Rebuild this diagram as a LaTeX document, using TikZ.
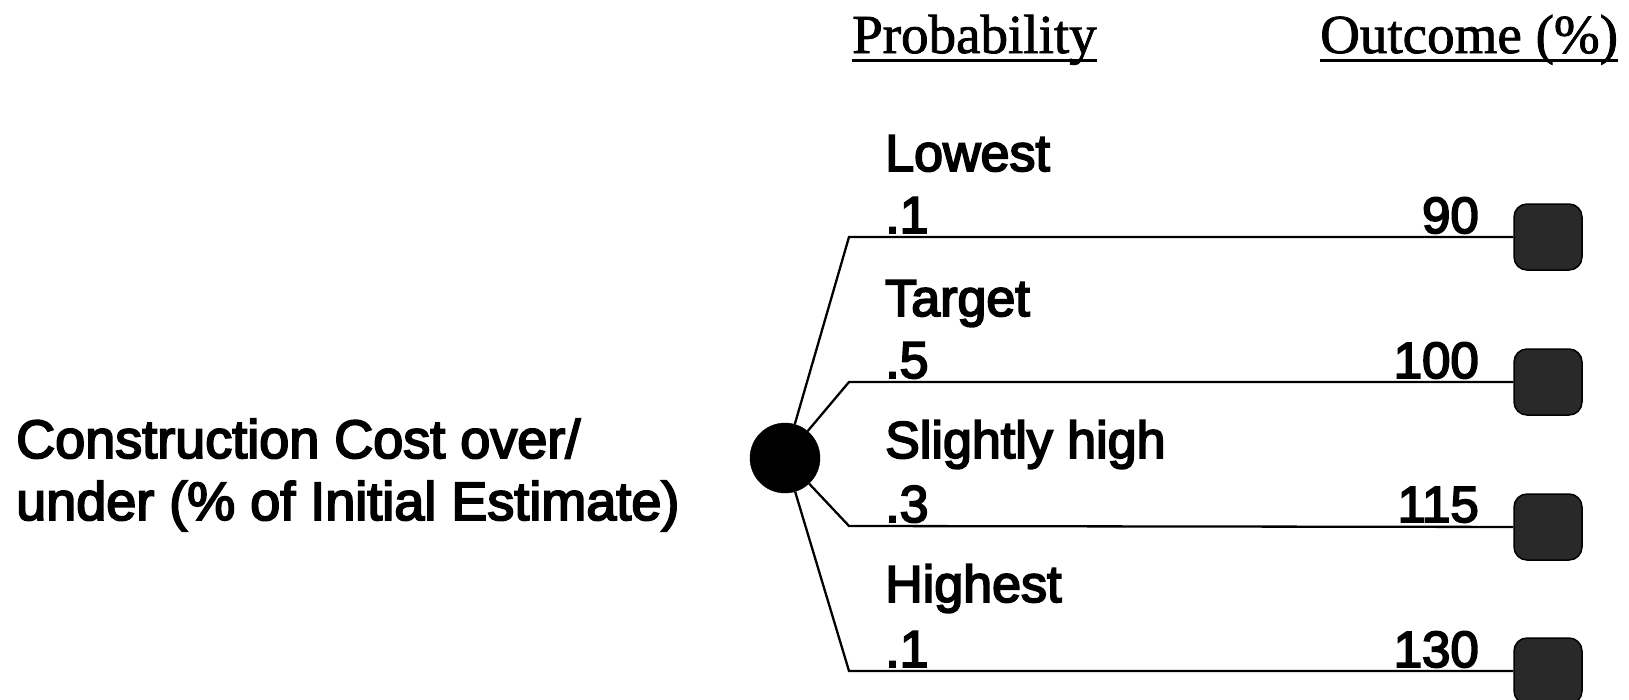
\documentclass[tikz,border=0pt]{standalone}
\usepackage{fontspec}
\setmainfont{Liberation Sans}
\newfontfamily\hv[FakeBold=3.5]{Liberation Sans}
\newfontfamily\tnr[FakeBold=1.5]{Liberation Serif}
\begin{document}
\begin{tikzpicture}[x=1pt,y=-1pt,
  txt/.style={inner sep=0pt, anchor=base west, font=\hv\fontsize{52}{60}\selectfont},
  num/.style={inner sep=0pt, anchor=base east, font=\hv\fontsize{51}{60}\selectfont},
  desc/.style={inner sep=0pt, anchor=base west, font=\hv\fontsize{54}{62}\selectfont},
  head/.style={inner sep=0pt, anchor=base west, font=\tnr\fontsize{55}{62}\selectfont},
  branch/.style={line width=2.3pt, line join=miter},
  chance/.style={circle, fill=black, draw=black, minimum size=70pt, inner sep=0pt},
  leaf/.style={rectangle, rounded corners=13pt, fill=black!84, draw=black, line width=1.5pt,
               minimum width=68pt, minimum height=66pt, inner sep=0pt}]
\useasboundingbox (0,0) rectangle (1629,699);

% headings
\node[head] (hp) at (852,53) {Probability};
\node[head] (ho) at (1320,53) {Outcome (\%)};
\draw[line width=3pt] ([yshift=-7pt]hp.base west) -- ([yshift=-7pt]hp.base east);
\draw[line width=3pt] ([yshift=-7pt]ho.base west) -- ([yshift=-7pt]ho.base east);

% left description
\node[desc] (d1) at (16,458) {Construction Cost over/};
\node[desc] (d2) at (16,520) {under (\% of Initial Estimate)};

% chance node
\node[chance] (c) at (785,458) {};

% corners
\coordinate (k1) at (849,237);
\coordinate (k2) at (849,382);
\coordinate (k3) at (849,526);
\coordinate (k4) at (849,671);

% terminal nodes
\node[leaf] (s1) at (1548,237) {};
\node[leaf] (s2) at (1548,382) {};
\node[leaf] (s3) at (1548,527) {};
\node[leaf] (s4) at (1548,671) {};

% branches
\draw[branch] (c) -- (k1) -- (s1);
\draw[branch] (c) -- (k2) -- (s2);
\draw[branch] (c) -- (k3) -- (s3);
\draw[branch] (c) -- (k4) -- (s4);

% labels
\node[txt] (l1) at (885,171) {Lowest};
\node[txt] (p1) at (885,233) {.1};
\node[num] (o1) at (1479,233) {90};

\node[txt] (l2) at (885,316) {Target};
\node[txt] (p2) at (885,378) {.5};
\node[num] (o2) at (1479,378) {100};

\node[txt] (l3) at (885,458) {Slightly high};
\node[txt] (p3) at (885,522) {.3};
\node[num] (o3) at (1479,522) {115};

\node[txt] (l4) at (885,602) {Highest};
\node[txt] (p4) at (885,667) {.1};
\node[num] (o4) at (1479,667) {130};
\end{tikzpicture}
\end{document}
